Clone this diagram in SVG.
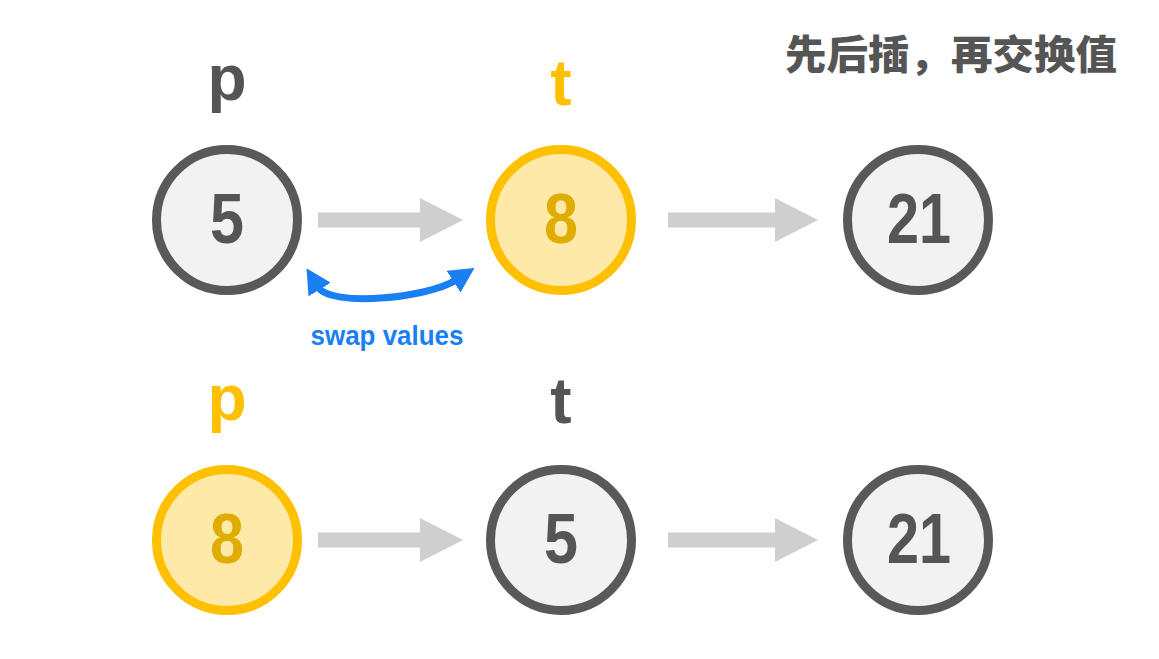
<svg xmlns="http://www.w3.org/2000/svg" width="1159" height="659" viewBox="0 0 1159 659">
<style>
.node-g circle{fill:#f2f2f2;stroke:#595959;stroke-width:9}
.node-y circle{fill:#ffe9a8;stroke:#ffc000;stroke-width:9}
.num{font-family:"Liberation Sans",Arial,sans-serif;font-weight:bold;font-size:70px;text-anchor:middle}
.node-g .num{fill:#555555}
.node-y .num{fill:#e0ac00}
.lbl{font-family:"Liberation Sans",Arial,sans-serif;font-weight:bold;font-size:64px;text-anchor:middle}
.gray{fill:#555555}
.yel{fill:#ffc000}
.arr{fill:#d0cfcf}
</style>
<defs>
<marker id="bh" viewBox="0 0 26 26" markerWidth="26" markerHeight="26" refX="3" refY="13" orient="auto-start-reverse" markerUnits="userSpaceOnUse">
<path d="M0,0 L25,13 L0,26 z" fill="#1a7ff2"/>
</marker>
<path id="ar" d="M0,-7.5 L102,-7.5 L102,-22 L145,0 L102,22 L102,7.5 L0,7.5 z"/>
<path id="ar2" d="M0,-7.5 L107,-7.5 L107,-22 L150,0 L107,22 L107,7.5 L0,7.5 z"/>
</defs>
<text x="785" y="69" textLength="332" lengthAdjust="spacingAndGlyphs" style="font-family:'Noto Sans CJK SC',sans-serif;font-weight:900;font-size:40px;fill:#555555">先后插，再交换值</text>
<g id="labels">
<text class="lbl gray" x="227" y="100">p</text>
<text class="lbl yel" x="561" y="105">t</text>
<text class="lbl yel" x="227" y="420">p</text>
<text class="lbl gray" x="561" y="423">t</text>
</g>
<g id="connectors">
<use href="#ar" class="arr" x="318" y="220"/>
<use href="#ar2" class="arr" x="668" y="220"/>
<use href="#ar" class="arr" x="318" y="540"/>
<use href="#ar2" class="arr" x="668" y="540"/>
<path d="M318,287 C330.5,307.4 427.4,298.4 456,280" fill="none" stroke="#1a7ff2" stroke-width="7" marker-start="url(#bh)" marker-end="url(#bh)"/>
<text x="387" y="345" textLength="153" lengthAdjust="spacingAndGlyphs" text-anchor="middle" style="font-family:'Liberation Sans',Arial,sans-serif;font-weight:bold;font-size:28px;fill:#1a7ff2">swap values</text>
</g>
<g id="n1" class="node-g"><circle cx="227" cy="220" r="70.5"/><text class="num" x="227" y="243" textLength="34" lengthAdjust="spacingAndGlyphs">5</text></g>
<g id="n2" class="node-y"><circle cx="561" cy="220" r="70.5"/><text class="num" x="561" y="243" textLength="34" lengthAdjust="spacingAndGlyphs">8</text></g>
<g id="n3" class="node-g"><circle cx="918" cy="220" r="70.5"/><text class="num" x="919" y="243" textLength="64" lengthAdjust="spacingAndGlyphs">21</text></g>
<g id="n4" class="node-y"><circle cx="227" cy="540" r="70.5"/><text class="num" x="227" y="563" textLength="34" lengthAdjust="spacingAndGlyphs">8</text></g>
<g id="n5" class="node-g"><circle cx="561" cy="540" r="70.5"/><text class="num" x="561" y="563" textLength="34" lengthAdjust="spacingAndGlyphs">5</text></g>
<g id="n6" class="node-g"><circle cx="918" cy="540" r="70.5"/><text class="num" x="919" y="563" textLength="64" lengthAdjust="spacingAndGlyphs">21</text></g>
</svg>
